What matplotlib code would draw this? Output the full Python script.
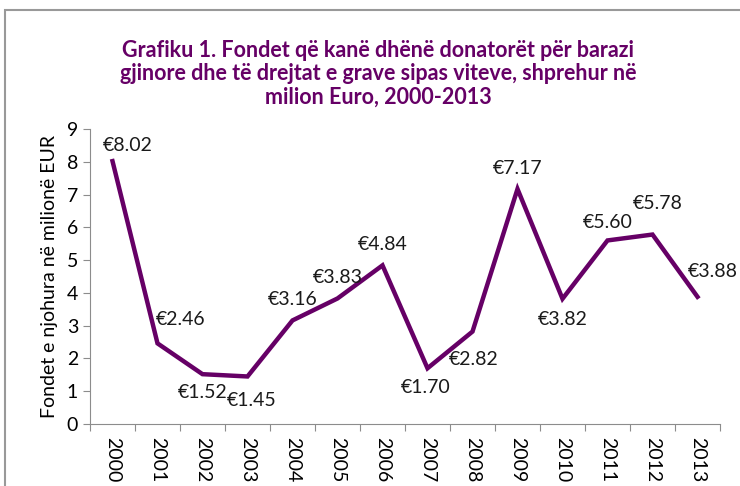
import numpy as np
import matplotlib.pyplot as plt
from matplotlib.patches import Rectangle

plt.rcParams['font.family'] = ['Lato', 'DejaVu Sans']

years = ['2000', '2001', '2002', '2003', '2004', '2005', '2006',
         '2007', '2008', '2009', '2010', '2011', '2012', '2013']
funds = [8.02, 2.46, 1.52, 1.45, 3.16, 3.83, 4.84,
         1.70, 2.82, 7.17, 3.82, 5.60, 5.78, 3.88]

# label offsets (points) relative to each point
offsets = [(11, 11), (17, 17), (0, -13), (3, -17), (0, 15), (0, 15), (0, 15),
           (-1, -14), (1, -20), (0, 15), (0, -15), (0, 13), (4, 22), (11, 18)]

PURPLE = '#660066'
GREY = '#8c8c8c'

fig = plt.figure(figsize=(7.4, 4.86), dpi=100)
fig.patches.append(Rectangle((5 / 740, -0.1), 2, 1.1 - 10 / 486, transform=fig.transFigure,
                             fill=False, edgecolor='#999999', linewidth=1.5))

ax = fig.add_axes([90 / 740, 1 - 424 / 486, 630 / 740, 295 / 486])
x = np.arange(len(years))
ax.plot(x, funds, color=PURPLE, linewidth=3.2, solid_joinstyle='miter')

for xi, v, (dx, dy) in zip(x, funds, offsets):
    ax.annotate(f'€{v:.2f}', (xi, v), xytext=(dx, dy), textcoords='offset points',
                ha='center', va='center', fontsize=14, color='#1a1a1a')

ax.set_xlim(-0.5, len(years) - 0.5)
ax.set_ylim(0, 9)
ax.set_yticks(range(10))
ax.set_xticks(np.arange(-0.5, len(years)), labels=[])
ax.set_xticks(x, labels=years, minor=True, rotation=270)
ax.tick_params(axis='x', which='major', length=5, color=GREY, direction='out')
ax.tick_params(axis='x', which='minor', length=0, labelsize=14, pad=9)
ax.tick_params(axis='y', length=5, color=GREY, labelsize=14)
for s in ['top', 'right']:
    ax.spines[s].set_visible(False)
for s in ['left', 'bottom']:
    ax.spines[s].set_color(GREY)
ax.set_ylabel('Fondet e njohura në milionë EUR', fontsize=14, labelpad=6)

fig.text(0.511, 0.918, 'Grafiku 1. Fondet që kanë dhënë donatorët për barazi\n'
         'gjinore dhe të drejtat e grave sipas viteve, shprehur në\n'
         'milion Euro, 2000-2013', ha='center', va='top', fontsize=15.5,
         fontweight='bold', color=PURPLE, linespacing=1.15)

fig.savefig('out.png', dpi=100)
